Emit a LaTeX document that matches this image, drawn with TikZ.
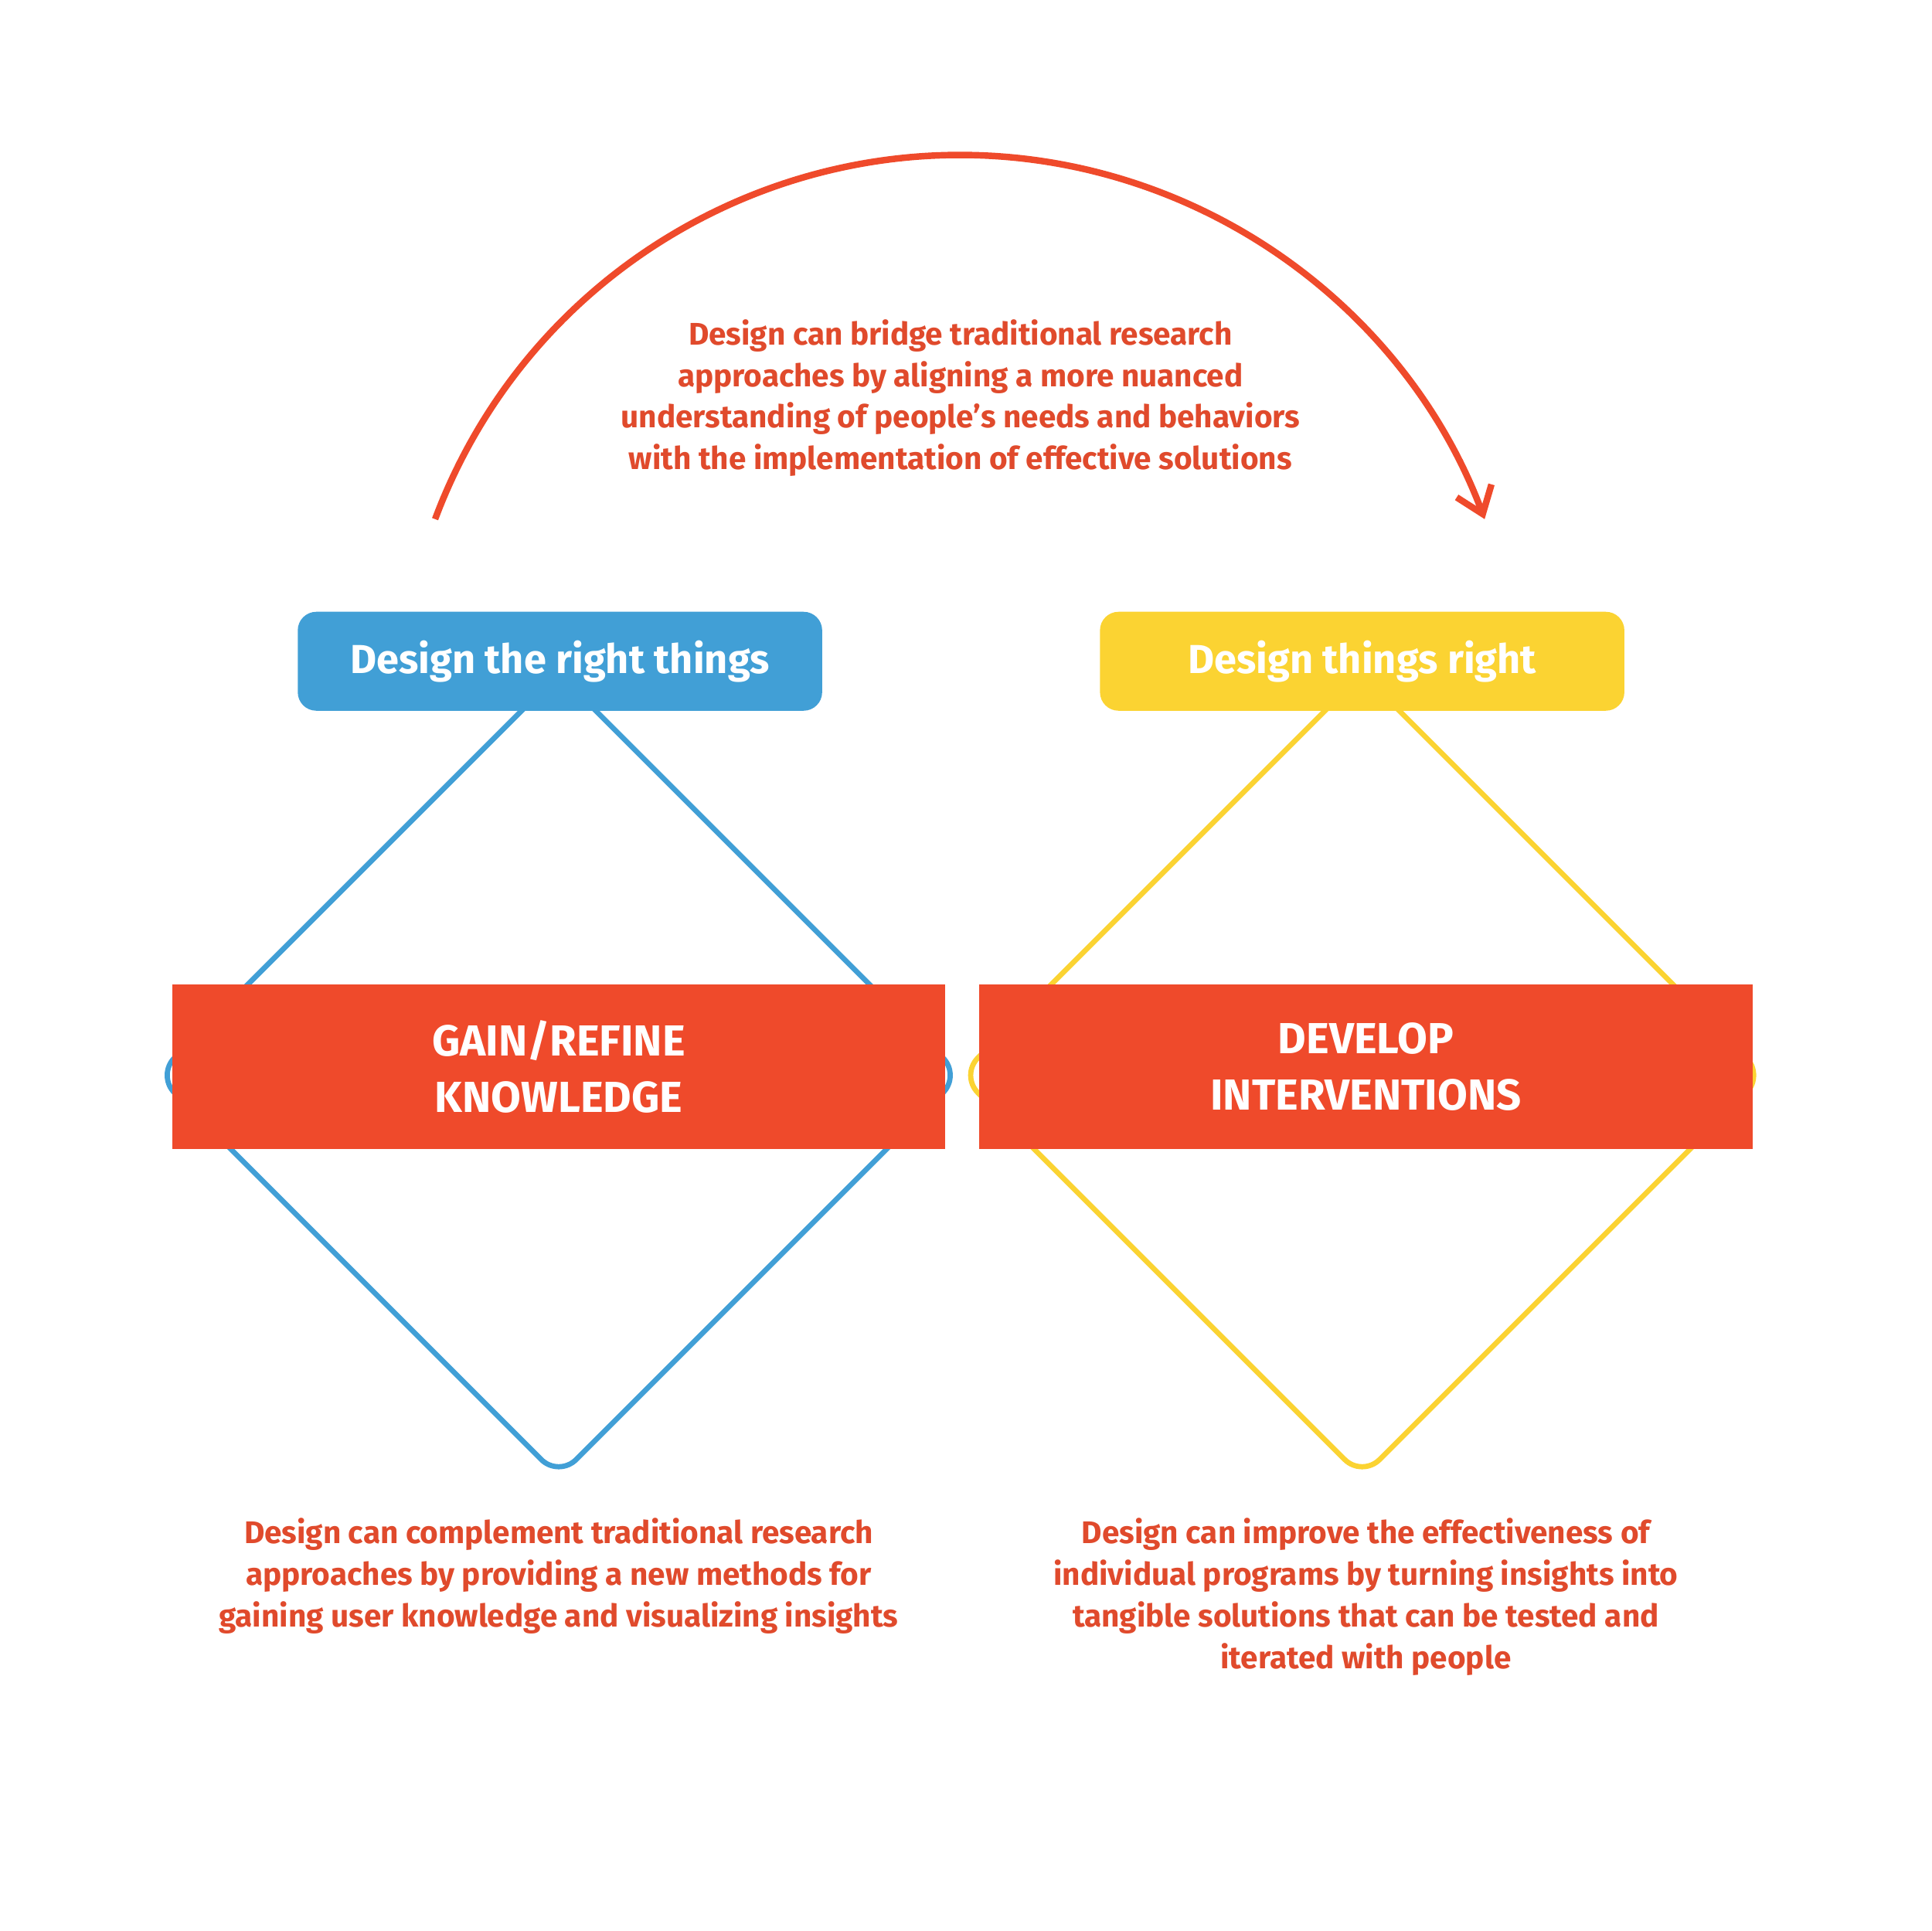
\documentclass[tikz,border=0pt]{standalone}
\usepackage{fontspec}
\setmainfont{Fira Sans}
\usetikzlibrary{arrows.meta}
\definecolor{redbox}{HTML}{EF4A2B}
\definecolor{redtext}{HTML}{E04A2C}
\definecolor{bluec}{HTML}{419FD6}
\definecolor{yellowc}{HTML}{FBD332}
\tikzset{
  tag/.style={rounded corners=0.15cm,text=white,font=\bfseries\fontsize{9.3}{11}\selectfont,minimum width=4.24cm,minimum height=0.8cm},
  phase/.style={fill=redbox,text=white,font=\bfseries\fontsize{10}{13}\selectfont,minimum width=6.25cm,minimum height=1.33cm,align=center},
  note/.style={text=redtext,font=\fontsize{7.2}{9.6}\selectfont\fontseries{sb}\selectfont,align=center}
}
\begin{document}
\begin{tikzpicture}[x=0.01cm,y=-0.01cm]
    \useasboundingbox (0,0) rectangle (1563,1562);
    \draw[bluec,line width=1.2pt,rounded corners=0.2cm] (452,545) -- (777,870) -- (452,1195) -- (127,870) -- cycle;
    \draw[yellowc,line width=1.2pt,rounded corners=0.2cm] (1102,545) -- (1427,870) -- (1102,1195) -- (777,870) -- cycle;

    \node[tag,fill=bluec] (right things) at (453,535) {Design the right things};
    \node[tag,fill=yellowc] (things right) at (1102,535) {Design things right};

    \node[phase] (gain) at (452,863) {GAIN/REFINE\\KNOWLEDGE};
    \node[phase] (develop) at (1105,863) {DEVELOP\\INTERVENTIONS};

    \draw[redbox,line width=1.5pt,-{Straight Barb[length=0.2cm,width=0.3cm]}] (352,420) arc[start angle=159.5,end angle=20.5,radius=4.53cm];
    \node[note] (bridge) at (777,322) {Design can bridge traditional research\\approaches by aligning a more nuanced\\understanding of people’s needs and behaviors\\with the implementation of effective solutions};
    \node[note] (complement) at (452,1275) {Design can complement traditional research\\approaches by providing a new methods for\\gaining user knowledge and visualizing insights};
    \node[note] (improve) at (1105,1292) {Design can improve the effectiveness of\\individual programs by turning insights into\\tangible solutions that can be tested and\\iterated with people};
\end{tikzpicture}
\end{document}
